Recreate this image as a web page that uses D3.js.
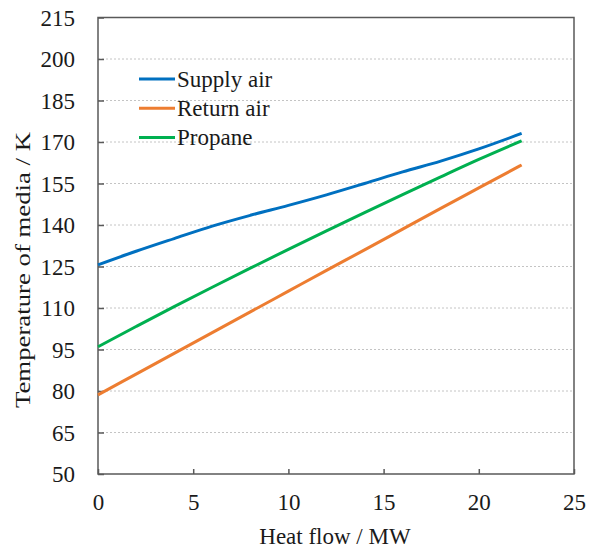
<!DOCTYPE html>
<html>
<head>
<meta charset="utf-8">
<script src="https://cdn.jsdelivr.net/npm/d3@7"></script>
<style>
  html, body { margin: 0; padding: 0; background: #fff; }
  svg text { font-family: "Times New Roman", "Liberation Serif", "DejaVu Serif", serif; fill: #1a1a1a; }
</style>
</head>
<body>
<svg id="chart" width="593" height="551"></svg>
<script>
// Heat flow (MW) sampled along each stream
const heatFlow = [0, 2, 4, 6, 8, 10, 12, 14, 16, 18, 20, 22.25];
// Temperatures (K)
const supplyAir = [125.6, 130.5, 135.1, 139.6, 143.5, 147.1, 150.9, 155.0, 159.2, 163.1, 167.5, 173.1];
const returnAir = [78.6, 86.1, 93.6, 101.1, 108.6, 116.1, 123.6, 131.0, 138.5, 146.0, 153.4, 161.7];
const propane   = [96.0, 103.3, 110.5, 117.5, 124.4, 131.2, 137.9, 144.5, 151.0, 157.4, 163.7, 170.4];

const seriesNames  = ["Supply air", "Return air", "Propane"];
const seriesValues = [supplyAir, returnAir, propane];
const seriesColors = ["#0070C0", "#ED7D31", "#00B050"];

const xTicks = [0, 5, 10, 15, 20, 25];
const yTicks = [50, 65, 80, 95, 110, 125, 140, 155, 170, 185, 200, 215];

const svg = d3.select("#chart");
const plotLeft = 98, plotRight = 574, plotTop = 17.5, plotBottom = 474;
const fontSize = 23;

const x = d3.scaleLinear().domain([0, 25]).range([plotLeft, plotRight]);
const y = d3.scaleLinear().domain([50, 215]).range([plotBottom, plotTop]);

// dotted horizontal gridlines
svg.append("g")
  .selectAll("line")
  .data(yTicks.filter(v => v > 50 && v < 215))
  .join("line")
  .attr("x1", plotLeft).attr("x2", plotRight)
  .attr("y1", d => y(d)).attr("y2", d => y(d))
  .attr("stroke", "#c4c4c4")
  .attr("stroke-width", 1)
  .attr("stroke-dasharray", "2,2");

// y axis (ticks pointing inward)
const yAxis = svg.append("g")
  .attr("transform", `translate(${plotLeft},0)`)
  .call(d3.axisLeft(y).tickValues(yTicks).tickSize(-6).tickFormat(d3.format("d")));
yAxis.select(".domain").remove();
yAxis.selectAll(".tick line").attr("stroke", "#595959").attr("stroke-width", 1.5);
yAxis.selectAll(".tick text").attr("font-size", fontSize).attr("x", -23).attr("dy", "0.34em")
  .attr("fill", "#1a1a1a");

// x axis (ticks pointing inward)
const xAxis = svg.append("g")
  .attr("transform", `translate(0,${plotBottom})`)
  .call(d3.axisBottom(x).tickValues(xTicks).tickSize(-5).tickFormat(d3.format("d")));
xAxis.select(".domain").remove();
xAxis.selectAll(".tick line").attr("stroke", "#595959").attr("stroke-width", 1.5);
xAxis.selectAll(".tick text").attr("font-size", fontSize).attr("y", 20).attr("dy", "0.71em")
  .attr("fill", "#1a1a1a");
svg.selectAll("g").attr("font-family", null).attr("font-size", null);

// plot frame
svg.append("rect")
  .attr("x", plotLeft).attr("y", plotTop)
  .attr("width", plotRight - plotLeft).attr("height", plotBottom - plotTop)
  .attr("fill", "none").attr("stroke", "#595959").attr("stroke-width", 1.5);

// series lines
const line = d3.line()
  .x((d, i) => x(heatFlow[i]))
  .y(d => y(d))
  .curve(d3.curveMonotoneX);

svg.append("g")
  .selectAll("path")
  .data(seriesValues)
  .join("path")
  .attr("d", d => line(d))
  .attr("fill", "none")
  .attr("stroke", (d, i) => seriesColors[i])
  .attr("stroke-width", 3);

// legend
const legend = svg.append("g")
  .selectAll("g")
  .data(seriesNames)
  .join("g")
  .attr("transform", (d, i) => `translate(139,${79 + i * 29.3})`);
legend.append("line")
  .attr("x1", 0).attr("x2", 36)
  .attr("stroke", (d, i) => seriesColors[i])
  .attr("stroke-width", 3);
legend.append("text")
  .attr("x", 38).attr("dy", "0.34em")
  .attr("font-size", fontSize)
  .text(d => d);

// axis titles
svg.append("text")
  .attr("x", (plotLeft + plotRight) / 2 - 1).attr("y", 544)
  .attr("text-anchor", "middle")
  .attr("font-size", fontSize)
  .text("Heat flow / MW");

svg.append("text")
  .attr("transform", "translate(30,270) rotate(-90)")
  .attr("text-anchor", "middle")
  .attr("font-size", 22)
  .attr("textLength", 276)
  .attr("lengthAdjust", "spacingAndGlyphs")
  .text("Temperature of media / K");
</script>
</body>
</html>
